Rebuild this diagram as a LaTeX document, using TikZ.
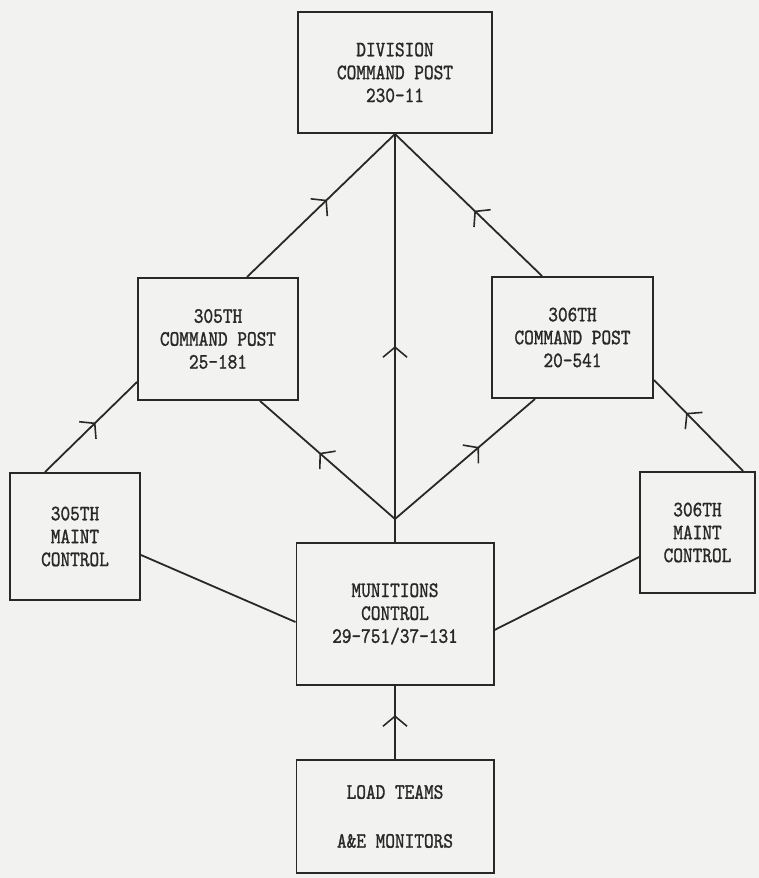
\documentclass[tikz,border=0pt]{standalone}
\usepackage{fontspec}
\newfontfamily\tw[FakeStretch=0.84,FakeBold=1.2]{lmmono10-regular.otf}
\usetikzlibrary{calc,arrows.meta,decorations.markings}
\definecolor{paper}{RGB}{242,242,240}
\definecolor{ink}{RGB}{40,40,40}
\tikzset{
  box/.style={draw=ink,line width=2pt,minimum width=#1,inner sep=0pt,align=center,
    font=\tw\fontsize{22}{23}\selectfont,text=ink},
  link/.style={draw=ink,line width=1.8pt},
  midarrow/.style={postaction={decorate},decoration={markings,
    mark=at position #1 with {\arrow[ink,line width=1.6pt]{Straight Barb[length=10bp,width=24bp]}}}}
}
\begin{document}
\begin{tikzpicture}[x=1bp,y=-1bp]
\fill[paper] (0,0) rectangle (759,878);
\useasboundingbox (0,0) rectangle (759,878);
\node[box=194bp,minimum height=121bp] (div) at (395,72.5) {DIVISION\\COMMAND POST\\230-11};
\node[box=160bp,minimum height=122bp] (cp305) at (218,339) {305TH\\COMMAND POST\\25-181};
\node[box=161bp,minimum height=121bp] (cp306) at (572.5,337.5) {306TH\\COMMAND POST\\20-541};
\node[box=130bp,minimum height=127bp] (m305) at (75,536.5) {305TH\\MAINT\\CONTROL};
\node[box=115bp,minimum height=121bp] (m306) at (697.5,532.5) {306TH\\MAINT\\CONTROL};
\node[box=197bp,minimum height=142bp] (mun) at (395,614) {MUNITIONS\\CONTROL\\29-751/37-131};
\node[box=197bp,minimum height=113bp] (load) at (395,816.5) {LOAD TEAMS\\[26bp]A\&E MONITORS};
\coordinate (J) at ($(mun.north)+(0,-23)$);
\draw[link,midarrow=0.55] ($(m305.north)+(-30,0)$) -- ($(cp305.west)+(0,43)$);
\draw[link,midarrow=0.54] ($(cp305.north)+(29,0)$) -- (div.south);
\draw[link,midarrow=0.46] ($(cp306.north)+(-30.5,0)$) -- (div.south);
\draw[link,midarrow=0.48] (mun.north) -- (div.south);
\draw[link,midarrow=0.56] (J) -- ($(cp305.south)+(42,0)$);
\draw[link,midarrow=0.6] (J) -- ($(cp306.south)+(-37.5,0)$);
\draw[link,midarrow=0.64] ($(m306.north)+(45.5,0)$) -- ($(cp306.east)+(0,42.5)$);
\draw[link] ($(m305.east)+(0,18.5)$) -- ($(mun.west)+(0,8)$);
\draw[link] ($(mun.east)+(0,16)$) -- ($(m306.west)+(0,24.5)$);
\draw[link,midarrow=0.6] (load.north) -- (mun.south);
\end{tikzpicture}
\end{document}
